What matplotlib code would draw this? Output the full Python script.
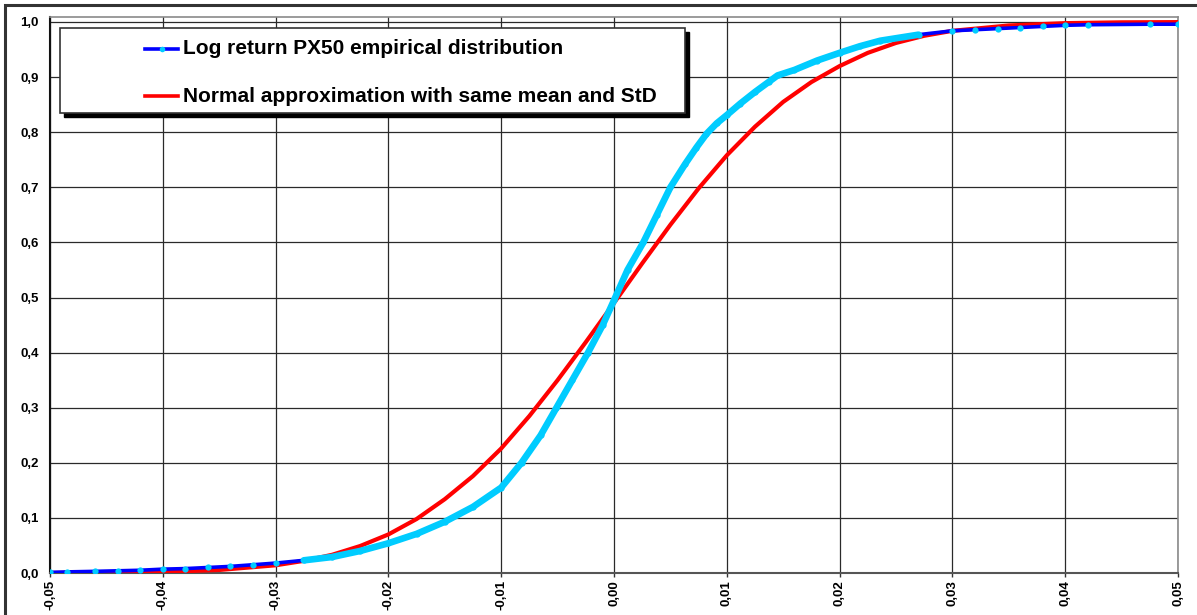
import matplotlib
matplotlib.use("Agg")
import matplotlib.pyplot as plt
from matplotlib.patches import Rectangle
from matplotlib.lines import Line2D
import numpy as np

# Empirical CDF of PX50 log returns
emp_x = [-0.0500, -0.0485, -0.0460, -0.0440, -0.0420, -0.0400, -0.0380, -0.0360, -0.0340,
         -0.0320, -0.0300, -0.0275, -0.0250, -0.0225, -0.0200, -0.0175, -0.0150, -0.0125,
         -0.0100, -0.0082, -0.0065, -0.0051, -0.0037, -0.0023, -0.0010, 0.0000, 0.0012,
         0.0026, 0.0038, 0.0050, 0.0063, 0.0073, 0.0082, 0.0091, 0.0100, 0.0112, 0.0125,
         0.0137, 0.0145, 0.0160, 0.0180, 0.0200, 0.0218, 0.0236, 0.0270, 0.0300, 0.0320,
         0.0340, 0.0360, 0.0380, 0.0400, 0.0420, 0.0475, 0.0500]
emp_y = [0.001, 0.002, 0.003, 0.004, 0.005, 0.007, 0.008, 0.010, 0.012,
         0.015, 0.018, 0.023, 0.029, 0.040, 0.054, 0.071, 0.093, 0.120,
         0.155, 0.200, 0.250, 0.300, 0.350, 0.400, 0.450, 0.495, 0.550,
         0.600, 0.650, 0.700, 0.742, 0.772, 0.797, 0.816, 0.831, 0.852, 0.873,
         0.891, 0.903, 0.913, 0.930, 0.944, 0.956, 0.966, 0.977, 0.984, 0.986,
         0.988, 0.990, 0.992, 0.994, 0.995, 0.996, 0.996]

# Normal approximation
norm_x = [-0.0500, -0.0450, -0.0400, -0.0350, -0.0300, -0.0275, -0.0250, -0.0225, -0.0200,
          -0.0175, -0.0150, -0.0125, -0.0100, -0.0075, -0.0050, -0.0025, 0.0000, 0.0025,
          0.0050, 0.0075, 0.0100, 0.0125, 0.0150, 0.0175, 0.0200, 0.0225, 0.0250, 0.0275,
          0.0300, 0.0350, 0.0400, 0.0450, 0.0500]
norm_y = [0.0002, 0.0006, 0.002, 0.0055, 0.014, 0.022, 0.033, 0.049, 0.070,
          0.098, 0.134, 0.176, 0.226, 0.285, 0.350, 0.419, 0.490, 0.562,
          0.632, 0.698, 0.758, 0.810, 0.855, 0.891, 0.920, 0.944, 0.962, 0.975,
          0.984, 0.9937, 0.9979, 0.9994, 0.9998]

x_ticks = [-0.05, -0.04, -0.03, -0.02, -0.01, 0.00, 0.01, 0.02, 0.03, 0.04, 0.05]
x_labels = ["-0,05", "-0,04", "-0,03", "-0,02", "-0,01", "0,00", "0,01", "0,02", "0,03", "0,04", "0,05"]
y_ticks = [0.0, 0.1, 0.2, 0.3, 0.4, 0.5, 0.6, 0.7, 0.8, 0.9, 1.0]
y_labels = ["0,0", "0,1", "0,2", "0,3", "0,4", "0,5", "0,6", "0,7", "0,8", "0,9", "1,0"]

legend_labels = ["Log return PX50 empirical distribution",
                 "Normal approximation with same mean and StD"]

plt.rcParams['font.family'] = ['Liberation Sans', 'DejaVu Sans']

W, H = 1197, 615
fig = plt.figure(figsize=(W / 100, H / 100), dpi=100)
fig.patch.set_facecolor('white')

# outer frame
fig.patches.append(Rectangle((5 / W, -0.1), 1.2, (H - 5) / H + 0.1, transform=fig.transFigure,
                             fill=False, edgecolor='#333333', linewidth=2.2))

L, R, T, B = 50, 1178, 17, 573
ax = fig.add_axes([L / W, (H - B) / H, (R - L) / W, (B - T) / H])
ax.set_xlim(-0.05, 0.05)
ax.set_ylim(0.0, 1.0 + 5 / 551)

ax.set_xticks(x_ticks)
ax.set_xticklabels(x_labels, rotation=90, fontsize=9.5, fontweight='bold')
ax.set_yticks(y_ticks)
ax.set_yticklabels(y_labels, fontsize=9.5, fontweight='bold')
ax.tick_params(axis='x', direction='out', length=3, width=1, pad=2, color='#333333')
ax.tick_params(axis='y', direction='out', length=0, width=1, pad=8, color='#333333')

ax.grid(True, color='#2a2a2a', linewidth=0.9)
ax.set_axisbelow(True)
for s in ['top', 'right']:
    ax.spines[s].set_color('#8a8a8a')
    ax.spines[s].set_linewidth(1.2)
ax.spines['left'].set_color('#111111')
ax.spines['left'].set_linewidth(1.5)
ax.spines['bottom'].set_color('#555555')
ax.spines['bottom'].set_linewidth(1.5)

ex = np.array(emp_x)
ey = np.array(emp_y)

ax.plot(norm_x, norm_y, color='#ff0000', linewidth=3.0, zorder=3)
ax.plot(ex, ey, color='#0000ff', linewidth=2.6, zorder=4)
mid = (ex > -0.029) & (ex < 0.029)
ax.plot(ex[mid], ey[mid], color='#00ccff', linewidth=4.8, zorder=5, solid_capstyle='round',
        solid_joinstyle='round')
ax.plot(ex, ey, linestyle='none', marker='o', markersize=4.5, color='#00ccff',
        markeredgewidth=0, zorder=6)

# legend (manual)
def axf(px, py):
    return (px - L) / (R - L), (B - py) / (B - T)

lx0, ly0 = axf(60, 113)
lx1, ly1 = axf(685, 28)
shx, shy = 4 / (R - L), 4 / (B - T)
ax.add_patch(Rectangle((lx0 + shx, ly0 - shy), lx1 - lx0, ly1 - ly0, transform=ax.transAxes,
                       facecolor='black', edgecolor='black', zorder=10))
ax.add_patch(Rectangle((lx0, ly0), lx1 - lx0, ly1 - ly0, transform=ax.transAxes,
                       facecolor='white', edgecolor='#333333', linewidth=1.2, zorder=11))

hx0, _ = axf(145, 0)
hx1, _ = axf(178, 0)
tx, _ = axf(183, 0)
_, r1 = axf(0, 49)
_, r2 = axf(0, 96)
ax.add_line(Line2D([hx0, hx1], [r1, r1], transform=ax.transAxes, color='#0000ff',
                   linewidth=2.6, zorder=12))
ax.add_line(Line2D([(hx0 + hx1) / 2], [r1], transform=ax.transAxes, color='#00ccff',
                   marker='o', markersize=4, markeredgewidth=0, zorder=13))
ax.add_line(Line2D([hx0, hx1], [r2, r2], transform=ax.transAxes, color='#ff0000',
                   linewidth=2.6, zorder=12))
ax.text(tx, r1, legend_labels[0], transform=ax.transAxes, fontsize=15, fontweight='bold',
        va='center', ha='left', zorder=13)
ax.text(tx, r2, legend_labels[1], transform=ax.transAxes, fontsize=15, fontweight='bold',
        va='center', ha='left', zorder=13)

fig.savefig('out.png', dpi=100, facecolor='white')
